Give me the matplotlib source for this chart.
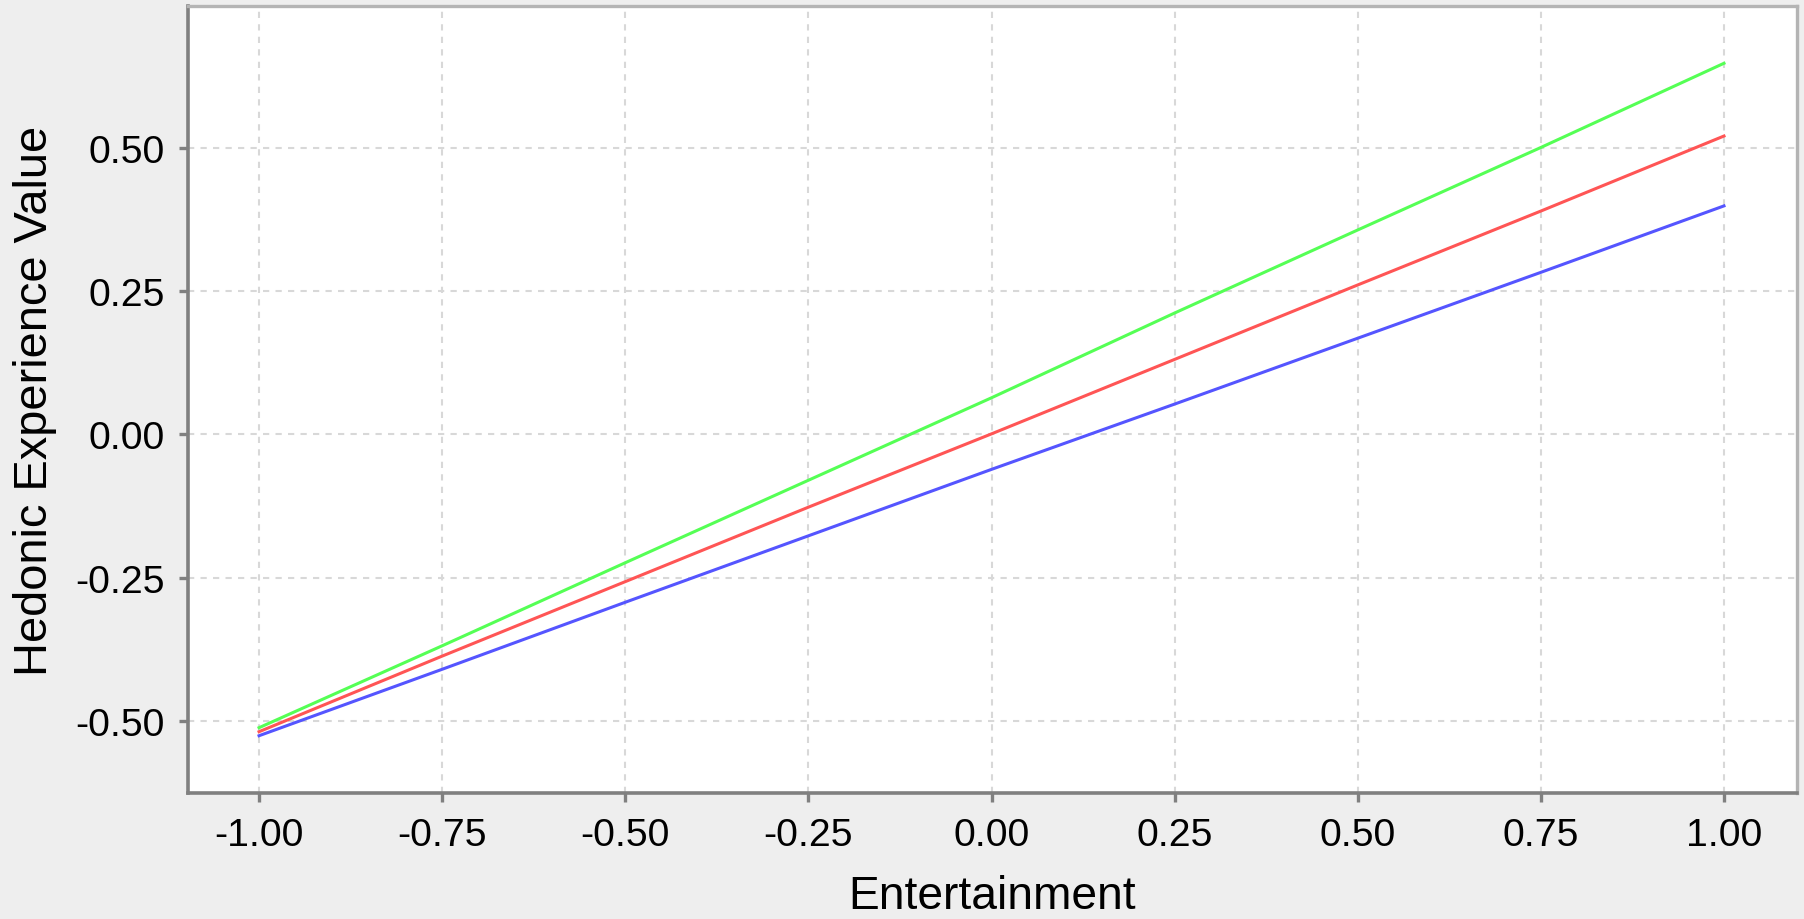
import numpy as np
import matplotlib
matplotlib.use("Agg")
import matplotlib.pyplot as plt

# values at each grid step
entertainment = [-1.00, -0.75, -0.50, -0.25, 0.00, 0.25, 0.50, 0.75, 1.00]
green_vals = [-0.512, -0.369, -0.224, -0.080, 0.064, 0.212, 0.357, 0.501, 0.648]
red_vals = [-0.519, -0.387, -0.257, -0.127, 0.001, 0.131, 0.261, 0.390, 0.521]
blue_vals = [-0.526, -0.410, -0.293, -0.177, -0.061, 0.053, 0.168, 0.283, 0.399]

x_ticks = [-1.00, -0.75, -0.50, -0.25, 0.00, 0.25, 0.50, 0.75, 1.00]
y_ticks = [-0.50, -0.25, 0.00, 0.25, 0.50]

plt.rcParams['font.family'] = ['Liberation Sans', 'DejaVu Sans']

W, H = 1804, 920
fig = plt.figure(figsize=(W / 100, H / 100), dpi=100, facecolor='#eeeeee')
ax = fig.add_axes([188 / W, 1 - 794 / H, (1797 - 188) / W, (794 - 7) / H])
ax.set_facecolor('white')

ax.plot(entertainment, blue_vals, color='#5555ff', lw=2.2, zorder=3)
ax.plot(entertainment, red_vals, color='#ff5555', lw=2.2, zorder=3)
ax.plot(entertainment, green_vals, color='#55ff55', lw=2.2, zorder=3)

ax.set_xlim(-1.097, 1.0997)
ax.set_ylim(-0.626, 0.748)
ax.set_xticks(x_ticks)
ax.set_yticks(y_ticks)
ax.set_xticklabels(['%.2f' % v for v in x_ticks])
ax.set_yticklabels(['%.2f' % v for v in y_ticks])

ax.grid(True, color='#d8d8d8', lw=1.5, linestyle=(0, (3.0, 3.0)), zorder=1)

for side in ['left', 'bottom']:
  ax.spines[side].set_color('#808080')
  ax.spines[side].set_linewidth(2.6)
for side in ['top', 'right']:
  ax.spines[side].set_color('#b4b4b4')
  ax.spines[side].set_linewidth(2.4)

ax.tick_params(axis='both', direction='out', length=6.5, width=2.4,
               color='#808080', labelsize=28.3, labelcolor='black', pad=10.5)

ax.set_xlabel('Entertainment', fontsize=33.2)
ax.set_ylabel('Hedonic Experience Value', fontsize=33.8)
ax.xaxis.set_label_coords(0.5, -0.103)
ax.yaxis.set_label_coords(-0.0814, 0.5)

fig.savefig('out.png', dpi=100, facecolor=fig.get_facecolor())
